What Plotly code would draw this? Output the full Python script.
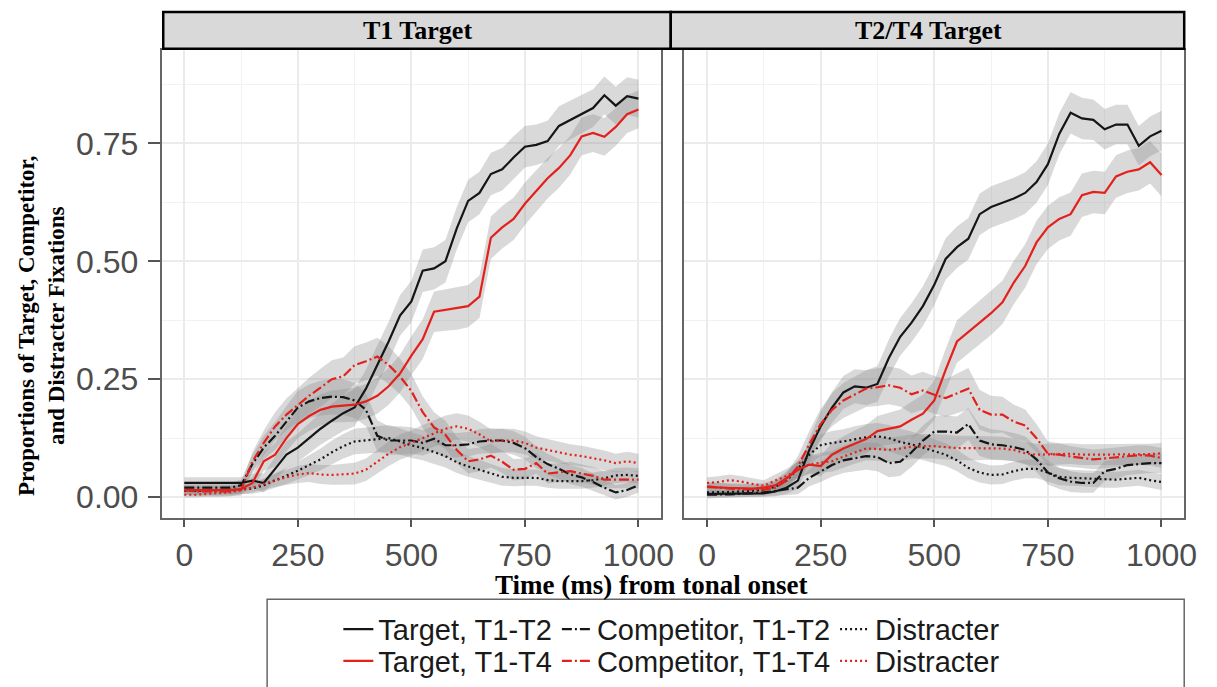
import plotly.graph_objects as go

time_ms = list(range(0, 1001, 25))

# ---------------- T1 Target panel (left) ----------------
l_target_t12 = [0.03, 0.03, 0.03, 0.03, 0.03, 0.03, 0.035, 0.03, 0.06, 0.09, 0.105, 0.125, 0.145, 0.162, 0.178, 0.19,
                0.23, 0.28, 0.33, 0.385, 0.415, 0.48, 0.485, 0.5, 0.57, 0.628, 0.645, 0.685, 0.695, 0.72, 0.743,
                0.747, 0.755, 0.787, 0.8, 0.812, 0.825, 0.852, 0.83, 0.85, 0.845]
l_target_t14 = [0.015, 0.015, 0.015, 0.015, 0.015, 0.017, 0.03, 0.076, 0.09, 0.125, 0.155, 0.172, 0.185, 0.192, 0.194,
                0.196, 0.203, 0.215, 0.235, 0.262, 0.30, 0.335, 0.393, 0.397, 0.40, 0.405, 0.425, 0.55, 0.572, 0.59,
                0.622, 0.648, 0.676, 0.698, 0.725, 0.765, 0.772, 0.764, 0.785, 0.812, 0.822]
l_comp_t12 = [0.02, 0.02, 0.02, 0.02, 0.02, 0.025, 0.07, 0.105, 0.13, 0.16, 0.19, 0.203, 0.21, 0.213, 0.212, 0.205,
              0.185, 0.13, 0.12, 0.12, 0.12, 0.115, 0.124, 0.11, 0.11, 0.112, 0.118, 0.12, 0.12, 0.115, 0.104, 0.085,
              0.07, 0.06, 0.048, 0.042, 0.032, 0.02, 0.01, 0.015, 0.025]
l_comp_t14 = [0.015, 0.012, 0.012, 0.012, 0.012, 0.015, 0.075, 0.115, 0.15, 0.175, 0.195, 0.215, 0.232, 0.25, 0.256,
              0.28, 0.288, 0.298, 0.28, 0.256, 0.225, 0.18, 0.148, 0.132, 0.1, 0.076, 0.08, 0.088, 0.075, 0.058, 0.06,
              0.072, 0.05, 0.052, 0.055, 0.05, 0.045, 0.037, 0.037, 0.037, 0.037]
l_dist_t12 = [0.013, 0.013, 0.013, 0.014, 0.015, 0.016, 0.018, 0.025, 0.035, 0.045, 0.056, 0.068, 0.08, 0.095, 0.108,
              0.118, 0.12, 0.122, 0.125, 0.118, 0.11, 0.104, 0.095, 0.087, 0.074, 0.065, 0.058, 0.05, 0.043, 0.041,
              0.041, 0.041, 0.036, 0.034, 0.034, 0.034, 0.036, 0.04, 0.046, 0.047, 0.045]
l_dist_t14 = [0.005, 0.005, 0.007, 0.008, 0.01, 0.015, 0.02, 0.028, 0.036, 0.042, 0.048, 0.051, 0.048, 0.047, 0.048,
              0.05, 0.058, 0.075, 0.092, 0.106, 0.115, 0.125, 0.135, 0.145, 0.15, 0.145, 0.133, 0.118, 0.12, 0.12,
              0.115, 0.105, 0.1, 0.095, 0.09, 0.087, 0.083, 0.078, 0.072, 0.076, 0.072]

l_target_t12_se = [0.012, 0.012, 0.012, 0.012, 0.012, 0.012, 0.015, 0.02, 0.025, 0.028, 0.03, 0.032, 0.034, 0.036,
                   0.038, 0.04, 0.04, 0.042, 0.042, 0.043, 0.044, 0.045, 0.045, 0.045, 0.045, 0.045, 0.045, 0.045,
                   0.045, 0.045, 0.044, 0.043, 0.043, 0.042, 0.041, 0.04, 0.04, 0.04, 0.04, 0.04, 0.04]
l_target_t14_se = [0.01, 0.01, 0.01, 0.01, 0.01, 0.01, 0.013, 0.02, 0.025, 0.028, 0.03, 0.032, 0.033, 0.034, 0.035,
                   0.036, 0.037, 0.038, 0.039, 0.04, 0.041, 0.042, 0.043, 0.044, 0.045, 0.045, 0.045, 0.045, 0.045,
                   0.045, 0.045, 0.044, 0.043, 0.042, 0.041, 0.04, 0.04, 0.04, 0.04, 0.04, 0.04]
l_comp_t12_se = [0.01, 0.01, 0.01, 0.01, 0.01, 0.012, 0.02, 0.025, 0.03, 0.033, 0.035, 0.036, 0.037, 0.038, 0.038,
                 0.037, 0.035, 0.033, 0.03, 0.03, 0.028, 0.027, 0.027, 0.027, 0.026, 0.026, 0.026, 0.026, 0.025,
                 0.025, 0.024, 0.023, 0.022, 0.021, 0.02, 0.02, 0.018, 0.016, 0.015, 0.015, 0.015]
l_comp_t14_se = [0.01, 0.01, 0.01, 0.01, 0.01, 0.012, 0.02, 0.026, 0.03, 0.034, 0.036, 0.038, 0.04, 0.04, 0.04, 0.04,
                 0.04, 0.04, 0.04, 0.038, 0.036, 0.034, 0.032, 0.03, 0.028, 0.026, 0.025, 0.025, 0.024, 0.023, 0.022,
                 0.022, 0.021, 0.02, 0.02, 0.02, 0.019, 0.018, 0.018, 0.018, 0.018]
l_dist_t12_se = [0.008, 0.008, 0.008, 0.008, 0.009, 0.01, 0.011, 0.013, 0.015, 0.017, 0.019, 0.021, 0.023, 0.025,
                 0.026, 0.027, 0.028, 0.028, 0.028, 0.028, 0.027, 0.026, 0.025, 0.024, 0.023, 0.022, 0.021, 0.02,
                 0.019, 0.018, 0.017, 0.017, 0.016, 0.016, 0.016, 0.016, 0.016, 0.016, 0.016, 0.016, 0.016]
l_dist_t14_se = [0.006, 0.006, 0.006, 0.007, 0.008, 0.009, 0.01, 0.012, 0.014, 0.016, 0.018, 0.019, 0.02, 0.021,
                 0.022, 0.023, 0.024, 0.025, 0.026, 0.027, 0.027, 0.028, 0.028, 0.028, 0.028, 0.028, 0.027, 0.026,
                 0.025, 0.025, 0.024, 0.024, 0.023, 0.023, 0.022, 0.022, 0.021, 0.021, 0.02, 0.02, 0.02]

# ---------------- T2/T4 Target panel (right) ----------------
r_target_t12 = [0.007, 0.007, 0.007, 0.008, 0.008, 0.008, 0.012, 0.02, 0.035, 0.1, 0.15, 0.19, 0.222, 0.235, 0.232,
                0.24, 0.295, 0.34, 0.37, 0.405, 0.45, 0.505, 0.53, 0.548, 0.6, 0.615, 0.624, 0.633, 0.645, 0.668,
                0.706, 0.77, 0.815, 0.803, 0.8, 0.78, 0.79, 0.79, 0.745, 0.765, 0.777]
r_target_t14 = [0.021, 0.02, 0.019, 0.018, 0.018, 0.02, 0.025, 0.04, 0.058, 0.069, 0.066, 0.09, 0.103, 0.113, 0.123,
                0.14, 0.145, 0.15, 0.164, 0.177, 0.205, 0.27, 0.33, 0.35, 0.37, 0.39, 0.413, 0.455, 0.49, 0.54, 0.572,
                0.59, 0.6, 0.64, 0.647, 0.645, 0.68, 0.69, 0.695, 0.71, 0.683]
r_comp_t12 = [0.005, 0.005, 0.006, 0.007, 0.008, 0.01, 0.013, 0.016, 0.02, 0.041, 0.054, 0.068, 0.078, 0.083, 0.087,
              0.085, 0.072, 0.075, 0.095, 0.12, 0.139, 0.139, 0.137, 0.155, 0.12, 0.112, 0.11, 0.106, 0.1, 0.08,
              0.052, 0.04, 0.033, 0.03, 0.03, 0.055, 0.06, 0.068, 0.07, 0.072, 0.072]
r_comp_t14 = [0.023, 0.02, 0.018, 0.017, 0.016, 0.016, 0.02, 0.035, 0.065, 0.112, 0.155, 0.185, 0.205, 0.217, 0.23,
              0.233, 0.237, 0.232, 0.218, 0.226, 0.217, 0.21, 0.22, 0.23, 0.185, 0.175, 0.175, 0.16, 0.152, 0.125,
              0.092, 0.09, 0.086, 0.083, 0.08, 0.082, 0.084, 0.087, 0.089, 0.088, 0.083]
r_dist_t12 = [0.01, 0.01, 0.011, 0.012, 0.013, 0.015, 0.022, 0.035, 0.06, 0.09, 0.11, 0.115, 0.118, 0.123, 0.127,
              0.129, 0.125, 0.117, 0.112, 0.105, 0.097, 0.09, 0.078, 0.062, 0.052, 0.047, 0.048, 0.055, 0.06, 0.06,
              0.052, 0.043, 0.041, 0.04, 0.039, 0.037, 0.037, 0.039, 0.041, 0.036, 0.032]
r_dist_t14 = [0.03, 0.032, 0.036, 0.033, 0.028, 0.024, 0.035, 0.045, 0.058, 0.069, 0.073, 0.076, 0.086, 0.095, 0.103,
              0.102, 0.1, 0.103, 0.107, 0.108, 0.108, 0.106, 0.104, 0.104, 0.104, 0.104, 0.103, 0.1, 0.093, 0.09,
              0.09, 0.091, 0.092, 0.09, 0.09, 0.09, 0.09, 0.09, 0.09, 0.091, 0.093]

r_target_t12_se = [0.008, 0.008, 0.008, 0.008, 0.008, 0.008, 0.01, 0.013, 0.018, 0.025, 0.03, 0.033, 0.035, 0.036,
                   0.037, 0.038, 0.039, 0.04, 0.041, 0.042, 0.043, 0.044, 0.044, 0.044, 0.044, 0.044, 0.044, 0.044,
                   0.044, 0.044, 0.044, 0.044, 0.044, 0.044, 0.043, 0.043, 0.042, 0.042, 0.042, 0.042, 0.042]
r_target_t14_se = [0.01, 0.01, 0.01, 0.01, 0.01, 0.01, 0.012, 0.015, 0.018, 0.02, 0.022, 0.024, 0.026, 0.028, 0.03,
                   0.032, 0.034, 0.036, 0.038, 0.04, 0.042, 0.044, 0.045, 0.046, 0.046, 0.046, 0.046, 0.046, 0.046,
                   0.046, 0.046, 0.046, 0.046, 0.046, 0.045, 0.045, 0.045, 0.045, 0.045, 0.045, 0.045]
r_comp_t12_se = [0.008, 0.008, 0.008, 0.008, 0.008, 0.009, 0.01, 0.012, 0.014, 0.018, 0.022, 0.025, 0.027, 0.028,
                 0.029, 0.03, 0.03, 0.03, 0.031, 0.032, 0.033, 0.034, 0.034, 0.034, 0.033, 0.032, 0.031, 0.03, 0.029,
                 0.027, 0.025, 0.023, 0.022, 0.021, 0.021, 0.021, 0.021, 0.021, 0.021, 0.021, 0.021]
r_comp_t14_se = [0.01, 0.01, 0.01, 0.01, 0.01, 0.01, 0.012, 0.016, 0.022, 0.028, 0.032, 0.035, 0.037, 0.038, 0.039,
                 0.04, 0.04, 0.04, 0.04, 0.04, 0.04, 0.04, 0.042, 0.044, 0.042, 0.04, 0.038, 0.036, 0.034, 0.03,
                 0.026, 0.024, 0.022, 0.021, 0.021, 0.021, 0.021, 0.021, 0.021, 0.021, 0.021]
r_dist_t12_se = [0.008, 0.008, 0.008, 0.008, 0.008, 0.009, 0.011, 0.014, 0.018, 0.021, 0.023, 0.025, 0.026, 0.027,
                 0.028, 0.028, 0.028, 0.028, 0.027, 0.026, 0.025, 0.024, 0.023, 0.022, 0.021, 0.02, 0.02, 0.02, 0.02,
                 0.02, 0.019, 0.018, 0.017, 0.017, 0.017, 0.017, 0.017, 0.017, 0.017, 0.017, 0.017]
r_dist_t14_se = [0.012, 0.012, 0.012, 0.012, 0.012, 0.012, 0.013, 0.015, 0.017, 0.019, 0.021, 0.022, 0.023, 0.024,
                 0.025, 0.025, 0.026, 0.026, 0.026, 0.026, 0.026, 0.026, 0.026, 0.026, 0.026, 0.025, 0.025, 0.024,
                 0.024, 0.023, 0.023, 0.022, 0.022, 0.022, 0.022, 0.022, 0.022, 0.022, 0.022, 0.022, 0.022]

panel_titles = ["T1 Target", "T2/T4 Target"]
series_names = ["Target, T1-T2", "Competitor, T1-T2", "Distracter",
                "Target, T1-T4", "Competitor, T1-T4", "Distracter"]
x_ticks = [0, 250, 500, 750, 1000]
y_ticks = [0.0, 0.25, 0.5, 0.75]
y_tick_labels = ["0.00", "0.25", "0.50", "0.75"]

# ---------------- styling ----------------
W, H = 1217, 687
BLACK = "#151515"
RED = "#e3201b"
series_style = [
    (BLACK, "solid"), (BLACK, "10px,3px,2px,3px"), (BLACK, "2px,3px"),
    (RED, "solid"), (RED, "10px,3px,2px,3px"), (RED, "2px,3px"),
]
legend_ids = ["legend", "legend", "legend", "legend2", "legend2", "legend2"]

panels = [
    ("x", "y", [l_target_t12, l_comp_t12, l_dist_t12, l_target_t14, l_comp_t14, l_dist_t14],
     [l_target_t12_se, l_comp_t12_se, l_dist_t12_se, l_target_t14_se, l_comp_t14_se, l_dist_t14_se]),
    ("x2", "y2", [r_target_t12, r_comp_t12, r_dist_t12, r_target_t14, r_comp_t14, r_dist_t14],
     [r_target_t12_se, r_comp_t12_se, r_dist_t12_se, r_target_t14_se, r_comp_t14_se, r_dist_t14_se]),
]

fig = go.Figure()

# ribbons first
for xa, ya, means, ses in panels:
    for m, s in zip(means, ses):
        upper = [a + b for a, b in zip(m, s)]
        lower = [a - b for a, b in zip(m, s)]
        fig.add_trace(go.Scatter(
            x=time_ms + time_ms[::-1], y=upper + lower[::-1],
            fill="toself", fillcolor="rgba(140,140,140,0.33)",
            line=dict(width=0), mode="lines", hoverinfo="skip",
            showlegend=False, xaxis=xa, yaxis=ya))

# lines
for pi, (xa, ya, means, ses) in enumerate(panels):
    for si, m in enumerate(means):
        color, dash = series_style[si]
        fig.add_trace(go.Scatter(
            x=time_ms, y=m, mode="lines", name=series_names[si],
            line=dict(color=color, width=2.2, dash=dash),
            legend=legend_ids[si], showlegend=(pi == 0),
            xaxis=xa, yaxis=ya))

tick_font = dict(family="Liberation Sans, Arial", size=32, color="#4d4d4d")
px_x = lambda p: p / W
px_y = lambda p: 1 - p / H

xaxis_common = dict(range=[-50, 1050], tickvals=x_ticks, ticks="outside", ticklen=8, tickwidth=1.5,
                    tickcolor="#555555", showline=True, linecolor="#666666", linewidth=1.5, mirror=True,
                    showgrid=True, gridcolor="#ebebeb", gridwidth=1.5, zeroline=False,
                    minor=dict(dtick=125, tick0=125, showgrid=True, gridcolor="#f2f2f2", gridwidth=1, ticks=""),
                    tickfont=tick_font)
yaxis_common = dict(range=[-0.0437, 0.9485], tickvals=y_ticks, showline=True, linecolor="#666666",
                    linewidth=1.5, mirror=True, showgrid=True, gridcolor="#ebebeb", gridwidth=1.5,
                    zeroline=False,
                    minor=dict(dtick=0.125, tick0=0.125, showgrid=True, gridcolor="#f2f2f2", gridwidth=1, ticks=""))

legend_font = dict(family="Liberation Sans, Arial", size=29, color="#1a1a1a")

fig.update_layout(
    width=W, height=H, margin=dict(l=0, r=0, t=0, b=0),
    paper_bgcolor="white", plot_bgcolor="white",
    xaxis=dict(domain=[px_x(163.3), px_x(668.3)], anchor="y", **xaxis_common),
    xaxis2=dict(domain=[px_x(691.7), px_x(1197)], anchor="y2", **xaxis_common),
    yaxis=dict(domain=[px_y(520), px_y(50)], anchor="x", ticks="outside", ticklen=12, tickwidth=1.5,
               tickcolor="#555555", ticktext=y_tick_labels, tickfont=tick_font, ticklabelstandoff=3,
               **yaxis_common),
    yaxis2=dict(domain=[px_y(520), px_y(50)], anchor="x2", matches="y", showticklabels=False, ticks="",
                **yaxis_common),
    legend=dict(orientation="h", x=px_x(342), xanchor="left", y=px_y(632), yanchor="middle",
                font=legend_font, bgcolor="rgba(0,0,0,0)", itemwidth=30, tracegroupgap=0),
    legend2=dict(orientation="h", x=px_x(342), xanchor="left", y=px_y(664), yanchor="middle",
                 font=legend_font, bgcolor="rgba(0,0,0,0)", itemwidth=30, tracegroupgap=0),
    showlegend=True,
)

# facet strips
strip_edges = [(165, 678), (678, 1197)]
for (x0, x1), title in zip(strip_edges, panel_titles):
    fig.add_shape(type="rect", xref="paper", yref="paper", x0=px_x(x0), x1=px_x(x1),
                  y0=px_y(49), y1=px_y(12), fillcolor="#d9d9d9", line=dict(color="black", width=2.5),
                  layer="above")
    fig.add_annotation(xref="paper", yref="paper", x=px_x((x0 + x1) / 2 + 1), y=px_y(31), text="<b>%s</b>" % title,
                       showarrow=False, font=dict(family="Liberation Serif, Times New Roman", size=26,
                                                   color="black"), xanchor="center", yanchor="middle")

# legend box
fig.add_shape(type="rect", xref="paper", yref="paper", x0=px_x(270), x1=px_x(1197), y0=px_y(700),
              y1=px_y(602), line=dict(color="#666666", width=1.5), fillcolor="rgba(0,0,0,0)")

# axis titles
fig.add_annotation(xref="paper", yref="paper", x=px_x(658), y=px_y(588), text="<b>Time (ms) from tonal onset</b>",
                   showarrow=False, font=dict(family="Liberation Serif, Times New Roman", size=27, color="black"),
                   xanchor="center", yanchor="middle")
fig.add_annotation(xref="paper", yref="paper", x=px_x(42), y=px_y(327),
                   text="<b>Proportions of Target, Competitor,<br>and Distracter Fixations</b>",
                   showarrow=False, textangle=-90,
                   font=dict(family="Liberation Serif, Times New Roman", size=23, color="black"),
                   xanchor="center", yanchor="middle")

fig.write_html("out.html")
